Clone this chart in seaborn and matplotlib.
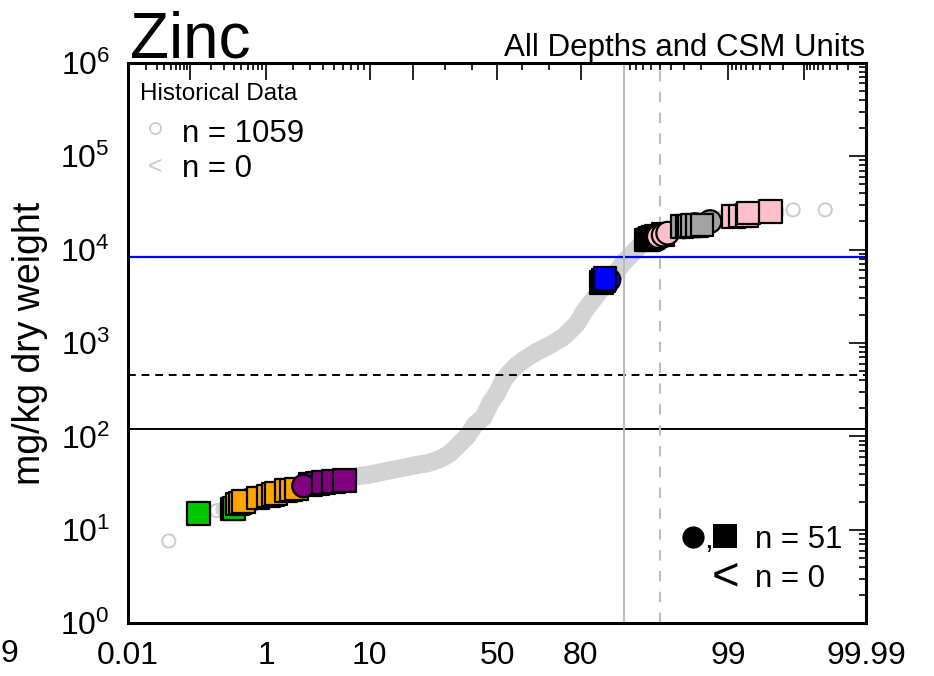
import numpy as np
import pandas as pd
import matplotlib
matplotlib.use("Agg")
import matplotlib.pyplot as plt
import seaborn as sns
from matplotlib.ticker import FixedLocator, NullFormatter, LogFormatterSciNotation
from statistics import NormalDist

# ---- historical record: cumulative percent vs concentration (mg/kg) ----
hist_pct = [0.3, 0.5, 1.0, 2.0, 3.0, 5.0, 6.9, 10.0, 12.6, 17.0, 20.9, 24.0,
            26.1, 28.9, 31.8, 34.9, 38.1, 39.9, 41.3, 44.6, 47.3, 50.0, 52.7,
            55.4, 58.0, 60.6, 65.7, 70.5, 75.0, 77.1, 79.1, 81.0, 82.7, 85.2,
            88.0, 90.0, 92.6, 94.0, 96.0, 97.0, 98.0, 99.0, 99.5, 99.75]
hist_val = [16.5, 19.0, 24.0, 27.5, 30.0, 33.0, 36.6, 39.0, 42.0, 46.0, 49.5,
            51.5, 54.0, 58.5, 66.0, 81.0, 100, 118, 135, 160, 227, 290, 403,
            494, 580, 659, 809, 955, 1172, 1380, 1630, 2170, 2670, 3700,
            5300, 7400, 11200, 13300, 15500, 17000, 18500, 22000, 24000, 25500]
# isolated historical values in the tails
tail_pct = [0.047, 0.236, 99.858, 99.953]
tail_val = [7.6, 16.05, 26600, 26600]

# ---- current samples (drawn back to front) ----
cur_pct = [0.38, 0.40, 0.72, 0.95, 0.60, 0.447, 0.48, 0.529, 0.80, 1.07, 1.20,
           1.30, 1.68, 1.90, 2.15, 3.0, 3.5, 2.56, 4.0, 5.0, 6.24, 0.131,
           87.05, 85.4, 85.8, 86.16,
           93.4, 93.71, 93.9, 94.07, 94.2, 94.3, 94.53, 95.3,
           94.8, 95.3, 95.73,
           97.0, 97.7, 98.41,
           96.89, 97.22, 97.4, 97.53, 97.81, 98.06,
           99.146, 99.3, 99.41, 99.44, 99.709]
cur_val = [16.7, 17.0, 21.8, 22.3, 20.6, 18.9, 19.4, 20.0, 22.0, 23.1, 24.0,
           24.5, 26.3, 26.8, 27.4, 30.5, 31.5, 29.5, 32.3, 33.0, 33.6, 15.06,
           4740, 4460, 4700, 4940,
           12700, 12900, 13100, 13340, 13500, 13600, 14020, 14500,
           13780, 14300, 14990,
           17500, 18500, 19950,
           17600, 17800, 17900, 18000, 18200, 18380,
           22560, 22800, 23100, 24530, 25520]
cur_group = (["green"] * 2 + ["orange"] * 13 + ["purple"] * 6 + ["green"]
             + ["blue"] * 4 + ["black"] * 8 + ["pink"] * 3 + ["gray"] * 9
             + ["pinksq"] * 5)
cur_shape = (["square"] * 2 + ["circle"] * 3 + ["square"] * 10
             + ["square"] * 2 + ["circle"] + ["square"] * 3 + ["square"]
             + ["circle"] + ["square"] * 3 + ["square"] * 8 + ["circle"] * 3
             + ["circle"] * 3 + ["square"] * 6 + ["square"] * 5)

# ---- guideline values ----
tec_value = 121
pec_value = 459
upper_value = 8400
pct_solid = 90
pct_dashed = 95

x_major = [0.01, 0.1, 1, 10, 20, 50, 80, 90, 99, 99.9, 99.99]
x_major_labels = ["0.01", "", "1", "10", "", "50", "80", "", "99", "", "99.99"]
x_minor = ([k / 100 for k in range(2, 10)] + [k / 10 for k in range(2, 10)]
           + list(range(2, 10)) + [30, 40, 60, 70] + list(range(91, 99))
           + [99 + k / 10 for k in range(1, 9)]
           + [99.9 + k / 100 for k in range(1, 9)])
y_major = [1e0, 1e1, 1e2, 1e3, 1e4, 1e5, 1e6]
y_minor = [m * d for d in y_major[:-1] for m in range(2, 10)]

palette = {"green": "#00c800", "orange": "#ffa500", "purple": "#800080",
           "blue": "#0000ff", "black": "#000000", "pink": "#ffc0cb",
           "pinksq": "#ffc0cb", "gray": "#a3a3a3"}

sns.set_theme(style="white")
plt.rcParams["font.family"] = ["Liberation Sans", "DejaVu Sans"]
plt.rcParams["mathtext.fontset"] = "custom"
plt.rcParams["mathtext.rm"] = "Liberation Sans"
plt.rcParams["mathtext.default"] = "regular"
for key in ["text.color", "axes.labelcolor", "xtick.color", "ytick.color",
            "xtick.labelcolor", "ytick.labelcolor"]:
    plt.rcParams[key] = "black"

W, H = 934, 676
fig = plt.figure(figsize=(W / 100, H / 100), dpi=100)
ax = fig.add_axes([128 / W, 1 - 623.3 / H, 738 / W, 560.6 / H])

_nd = NormalDist()


def prob_fwd(p):
    p = np.asarray(p, dtype=float)
    q = np.clip(np.where(np.isfinite(p), p, 50.0) / 100.0, 1e-12, 1 - 1e-12)
    z = np.vectorize(_nd.inv_cdf, otypes=[float])(q)
    return np.where(np.isfinite(p), z, np.nan)


def prob_inv(z):
    z = np.asarray(z, dtype=float)
    zz = np.where(np.isfinite(z), z, 0.0)
    p = np.vectorize(_nd.cdf, otypes=[float])(zz) * 100.0
    return np.where(np.isfinite(z), p, np.nan)


ax.set_xscale("function", functions=(prob_fwd, prob_inv))
ax.set_yscale("log")

# historical band
sns.lineplot(x=hist_pct, y=hist_val, color="#d3d3d3", linewidth=13,
             sort=False, estimator=None, ax=ax, zorder=1,
             solid_capstyle="round", solid_joinstyle="round")
sns.scatterplot(x=tail_pct, y=tail_val, marker="o", s=9.5 ** 2,
                facecolor="none", edgecolor="#cccccc", linewidth=1.4,
                ax=ax, zorder=1, legend=False)

# reference lines
ax.axhline(upper_value, color="#0000ff", lw=1.6, zorder=2)
ax.axhline(pec_value, color="black", lw=1.4, ls=(0, (4, 3)), zorder=2)
ax.axhline(tec_value, color="black", lw=1.4, zorder=2)
ax.axvline(pct_solid, color="#bdbdbd", lw=1.5, zorder=2)
ax.axvline(pct_dashed, color="#bdbdbd", lw=1.5, ls=(0, (5, 5)), zorder=2)

# current samples
cur = pd.DataFrame({"pct": cur_pct, "val": cur_val,
                    "group": cur_group, "shape": cur_shape})
sns.scatterplot(data=cur, x="pct", y="val", hue="group", palette=palette,
                style="shape", markers={"circle": "o", "square": "s"},
                s=16.3 ** 2, edgecolor="black", linewidth=1.6,
                legend=False, ax=ax, zorder=5)

ax.set_xlim(0.01, 99.99)
ax.set_ylim(1, 1e6)
ax.set_xlabel("")
ax.set_ylabel("mg/kg dry weight", fontsize=27)
ax.yaxis.set_label_coords(-0.108, 0.5)

ax.xaxis.set_major_locator(FixedLocator(x_major))
ax.set_xticklabels(x_major_labels)
ax.xaxis.set_minor_locator(FixedLocator(x_minor))
ax.xaxis.set_minor_formatter(NullFormatter())
ax.yaxis.set_major_locator(FixedLocator(y_major))
ax.yaxis.set_major_formatter(LogFormatterSciNotation())
ax.yaxis.set_minor_locator(FixedLocator(y_minor))
ax.yaxis.set_minor_formatter(NullFormatter())

ax.tick_params(which="both", direction="in", top=True, right=True,
               color="black", width=1.2, labelsize=23, pad=13)
ax.tick_params(which="major", length=12)
ax.tick_params(which="minor", length=4.8)
for sp in ax.spines.values():
    sp.set_linewidth(2.2)
    sp.set_color("black")


def fx(x):
    return x / W


def fy(y):
    return 1 - y / H


# titles
fig.text(fx(130), fy(57), "Zinc", fontsize=46, va="baseline", ha="left")
fig.text(fx(865), fy(56), "All Depths and CSM Units", fontsize=22.5,
         va="baseline", ha="right")
fig.text(fx(0), fy(662), "9", fontsize=23, va="baseline", ha="left")

# historical key
fig.text(fx(140), fy(100), "Historical Data", fontsize=17.5, va="baseline")
ax.plot([fx(155)], [fy(128)], transform=fig.transFigure, marker="o", ms=8,
        mfc="none", mec="#cccccc", mew=1.3, clip_on=False)
fig.text(fx(182), fy(141.7), "n = 1059", fontsize=22.5, va="baseline")
fig.text(fx(155), fy(167), "<", fontsize=18, color="#cccccc",
         ha="center", va="center")
fig.text(fx(182), fy(176.7), "n = 0", fontsize=22.5, va="baseline")

# current sample key
ax.plot([fx(692.5)], [fy(536.7)], transform=fig.transFigure, marker="o",
        ms=16, color="black", mew=0, clip_on=False)
fig.text(fx(704), fy(548), ",", fontsize=22.5, va="baseline")
ax.plot([fx(725)], [fy(536)], transform=fig.transFigure, marker="s",
        ms=16.8, color="black", mew=0, clip_on=False)
fig.text(fx(755), fy(548), "n = 51", fontsize=22.5, va="baseline")
fig.text(fx(725), fy(577), "<", fontsize=34, ha="center", va="center")
fig.text(fx(755), fy(586.7), "n = 0", fontsize=22.5, va="baseline")

fig.savefig("out.png", dpi=100)
